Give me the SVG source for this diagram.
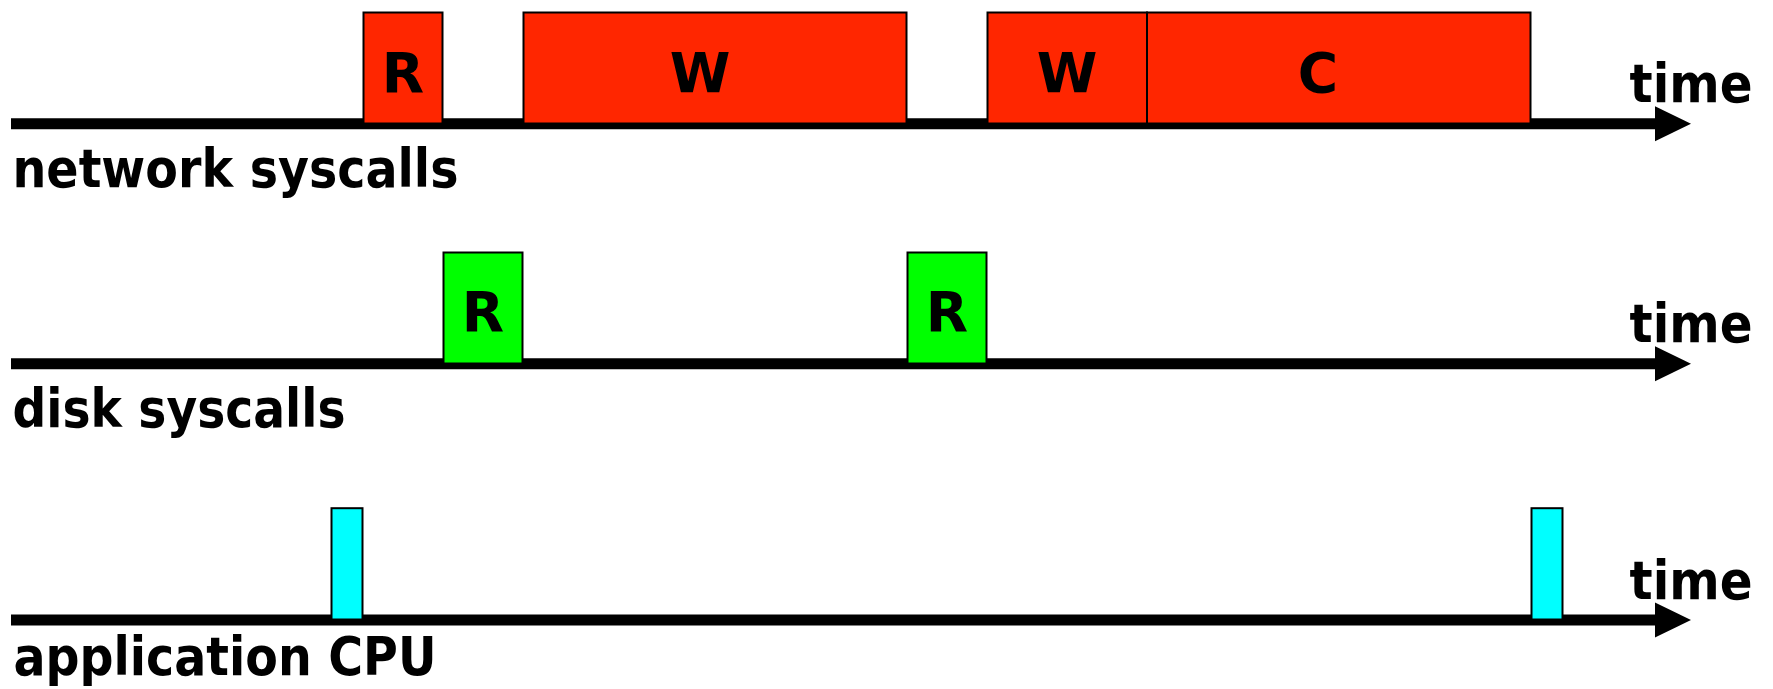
<svg xmlns="http://www.w3.org/2000/svg" width="1773" height="689" viewBox="0 0 1773 689">
<style>
.bg{fill:#ffffff}
.axis{stroke:#000;stroke-width:11;fill:none;marker-end:url(#arrow)}
.box{stroke:#000;stroke-width:2}
.red{fill:#FF2600}
.green{fill:#00FF00}
.cyan{fill:#00FFFF}
.lbl{font-family:"DejaVu Sans","Verdana",sans-serif;font-weight:bold;font-size:53px;fill:#000}
.let{font-family:"DejaVu Sans","Verdana",sans-serif;font-weight:bold;font-size:55px;fill:#000;text-anchor:middle}
</style>
<defs>
<marker id="arrow" markerUnits="userSpaceOnUse" markerWidth="37" markerHeight="36" refX="1" refY="17.5" orient="auto">
<path d="M0,0 L36,17.5 L0,35 Z" fill="#000"/>
</marker>
</defs>
<rect class="bg" x="0" y="0" width="1773" height="689"/>
<g id="connectors">
<line class="axis" x1="11" y1="123.8" x2="1656" y2="123.8"/>
<line class="axis" x1="11" y1="363.7" x2="1656" y2="363.7"/>
<line class="axis" x1="11" y1="619.9" x2="1656" y2="619.9"/>
</g>
<g id="net-R"><rect class="box red" x="363.5" y="12.5" width="79" height="111"/><text class="let" x="403" y="91.5">R</text></g>
<g id="net-W1"><rect class="box red" x="523.5" y="12.5" width="383" height="111"/><text class="let" x="700" y="91.5">W</text></g>
<g id="net-W2"><rect class="box red" x="987.5" y="12.5" width="159.5" height="111"/><text class="let" x="1067" y="91.5">W</text></g>
<g id="net-C"><rect class="box red" x="1147" y="12.5" width="383.5" height="111"/><text class="let" x="1318" y="91.5">C</text></g>
<g id="disk-R1"><rect class="box green" x="443.5" y="252.5" width="79" height="111"/><text class="let" x="483" y="331">R</text></g>
<g id="disk-R2"><rect class="box green" x="907.5" y="252.5" width="79" height="111"/><text class="let" x="947" y="331">R</text></g>
<g id="cpu-1"><rect class="box cyan" x="331.5" y="508.2" width="31" height="111.3"/></g>
<g id="cpu-2"><rect class="box cyan" x="1531.5" y="508.2" width="31" height="111.3"/></g>
<g id="labels">
<text class="lbl" x="12.5" y="187.3" textLength="446" lengthAdjust="spacingAndGlyphs">network syscalls</text>
<text class="lbl" x="12.5" y="427" textLength="333" lengthAdjust="spacingAndGlyphs">disk syscalls</text>
<text class="lbl" x="13.5" y="675" textLength="423" lengthAdjust="spacingAndGlyphs">application CPU</text>
<text class="lbl" x="1629.5" y="101.7" textLength="123" lengthAdjust="spacingAndGlyphs">time</text>
<text class="lbl" x="1629.5" y="342" textLength="123" lengthAdjust="spacingAndGlyphs">time</text>
<text class="lbl" x="1629.5" y="599" textLength="123" lengthAdjust="spacingAndGlyphs">time</text>
</g>
</svg>
